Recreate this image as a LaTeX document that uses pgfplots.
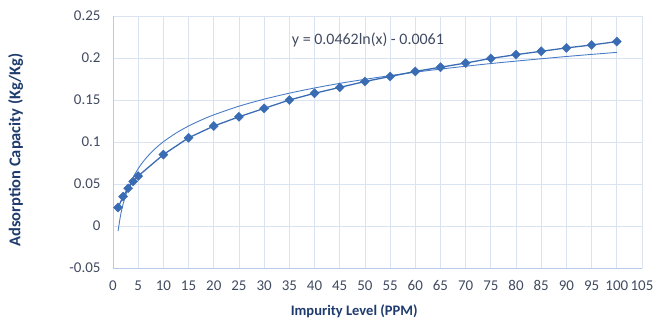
\documentclass[border=0pt]{standalone}
\usepackage{pgfplots}
\pgfplotsset{compat=1.18}
\usepackage{fontspec}
\setmainfont{Carlito}
\definecolor{gridc}{HTML}{D9E3F1}
\definecolor{axc}{HTML}{B7CBE8}
\definecolor{serc}{HTML}{3A6CB4}
\definecolor{trc}{HTML}{4A7CC6}
\definecolor{labc}{HTML}{1F3B6E}
\definecolor{tickc}{HTML}{404A60}
\begin{document}
\begin{tikzpicture}
\begin{axis}[
  scale only axis,
  width=529bp, height=252bp,
  xmin=0, xmax=105, ymin=-0.05, ymax=0.25,
  xtick={0,5,...,105},
  xticklabels={0,5,10,15,20,25,30,35,40,45,50,55,60,65,70,75,80,85,90,95,100,105},
  ytick={-0.05,0,0.05,0.1,0.15,0.2,0.25},
  yticklabels={-0.05,0,0.05,0.1,0.15,0.2,0.25},
  grid=both,
  major grid style={gridc, line width=0.8pt},
  axis x line*=bottom, axis y line*=left,
  axis line style={axc, line width=0.8pt},
  x axis line style={-}, y axis line style={-},
  tick style={draw=none},
  ticklabel style={font=\fontsize{15}{17}\selectfont, text=tickc},
  xticklabel style={yshift=-9bp},
  yticklabel style={xshift=-9bp},
  xlabel={\textbf{Impurity Level (PPM)}},
  ylabel={\textbf{Adsorption Capacity (Kg/Kg)}},
  xlabel style={font=\fontsize{14.6}{16}\selectfont, text=labc, at={(axis description cs:0.456,-0.171)}, anchor=center},
  ylabel style={font=\fontsize{16.5}{18}\selectfont, text=labc, at={(axis description cs:-0.163,0.468)}, anchor=south},
]
\addplot[trc, line width=0.9pt, smooth] coordinates {
 (1,-0.0061) (1.5,0.0126) (2,0.0259) (2.5,0.0362) (3,0.0447) (4,0.0579) (5,0.0683)
 (6,0.0767) (7,0.0838) (8.5,0.0928) (10,0.1003) (12.5,0.1106) (15,0.1190) (17.5,0.1261)
 (20,0.1323) (25,0.1426) (30,0.1510) (35,0.1581) (40,0.1643) (45,0.1698) (50,0.1746)
 (55,0.1790) (60,0.1831) (65,0.1868) (70,0.1902) (75,0.1934) (80,0.1963) (85,0.1991)
 (90,0.2018) (95,0.2043) (100,0.2067)};
\addplot[serc, line width=1.3pt, mark=square*, mark size=3.2bp,
  mark options={fill=serc, draw=serc, line width=0.4pt, rotate=45}] coordinates {
 (1,0.022) (2,0.035) (3,0.045) (4,0.053) (5,0.0595) (10,0.085) (15,0.105)
 (20,0.119) (25,0.130) (30,0.140) (35,0.150) (40,0.158) (45,0.165) (50,0.172)
 (55,0.178) (60,0.184) (65,0.189) (70,0.194) (75,0.1995) (80,0.204) (85,0.208)
 (90,0.212) (95,0.2155) (100,0.2195)};
\node[font=\fontsize{16}{18}\selectfont, text=tickc] at (axis cs:50.6,0.2215) {y = 0.0462ln(x) - 0.0061};
\end{axis}
\pgfresetboundingbox
\path[use as bounding box] ([shift={(-113bp,-54bp)}]current axis.south west) rectangle ([shift={(25bp,16bp)}]current axis.north east);
\end{tikzpicture}
\end{document}
